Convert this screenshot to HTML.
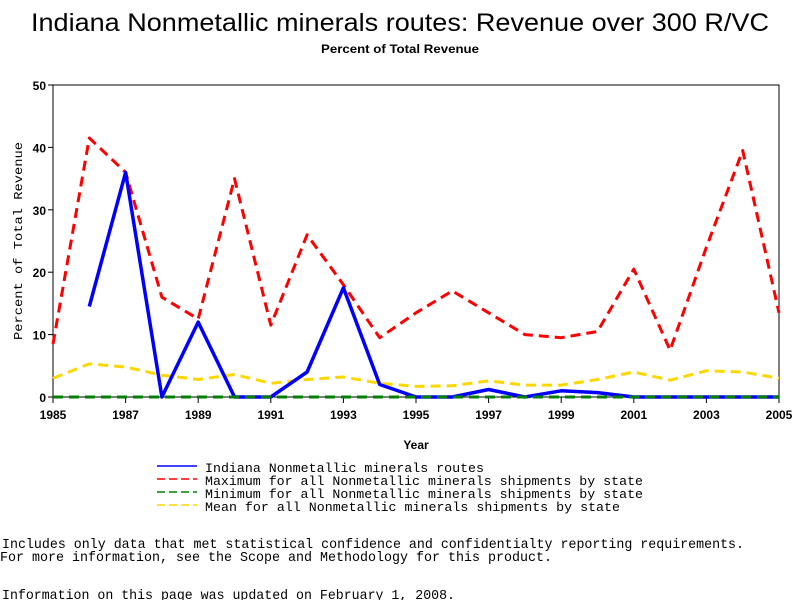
<!DOCTYPE html>
<html><head><meta charset="utf-8"><style>
html,body{margin:0;padding:0;background:#fff;}
svg{display:block;font-family:"Liberation Sans",sans-serif;}
</style></head><body>
<svg id="chart" width="800" height="600" viewBox="0 0 800 600">
<text x="400" y="31" text-anchor="middle" font-size="25" textLength="738" lengthAdjust="spacingAndGlyphs">Indiana Nonmetallic minerals routes: Revenue over 300 R/VC</text>
<text x="400" y="53" text-anchor="middle" font-size="12" font-weight="bold" textLength="158" lengthAdjust="spacingAndGlyphs">Percent of Total Revenue</text>
<rect x="53" y="85" width="726" height="312" fill="none" stroke="#000" stroke-width="1"/>
<g id="yaxis"></g>
<g id="xaxis"></g>
<text transform="translate(22,241) rotate(-90)" text-anchor="middle" font-family="Liberation Mono,monospace" font-size="12" textLength="198" lengthAdjust="spacingAndGlyphs">Percent of Total Revenue</text>
<text x="416" y="449" text-anchor="middle" font-size="12" font-weight="bold">Year</text>
<g id="series"></g>
<g font-family="Liberation Mono,monospace" font-size="13">
<line x1="157" y1="466" x2="197" y2="466" stroke="#0000ff" stroke-width="1.5"/>
<text x="205" y="472" textLength="279" lengthAdjust="spacingAndGlyphs">Indiana Nonmetallic minerals routes</text>
<line x1="157" y1="479" x2="197" y2="479" stroke="#ff0000" stroke-width="1.5" stroke-dasharray="8,4"/>
<text x="205" y="485" textLength="438" lengthAdjust="spacingAndGlyphs">Maximum for all Nonmetallic minerals shipments by state</text>
<line x1="157" y1="492" x2="197" y2="492" stroke="#008000" stroke-width="1.5" stroke-dasharray="8,4"/>
<text x="205" y="498" textLength="438" lengthAdjust="spacingAndGlyphs">Minimum for all Nonmetallic minerals shipments by state</text>
<line x1="157" y1="505" x2="197" y2="505" stroke="#ffd700" stroke-width="1.5" stroke-dasharray="8,4"/>
<text x="205" y="511" textLength="415" lengthAdjust="spacingAndGlyphs">Mean for all Nonmetallic minerals shipments by state</text>
</g>
<g font-family="Liberation Mono,monospace" font-size="14">
<text x="2" y="548" textLength="742" lengthAdjust="spacingAndGlyphs">Includes only data that met statistical confidence and confidentialty reporting requirements.</text>
<text x="0" y="561" textLength="552" lengthAdjust="spacingAndGlyphs">For more information, see the Scope and Methodology for this product.</text>
<text x="2" y="599" textLength="453" lengthAdjust="spacingAndGlyphs">Information on this page was updated on February 1, 2008.</text>
</g>
</svg>
<script>
const years = [1985,1986,1987,1988,1989,1990,1991,1992,1993,1994,1995,1996,1997,1998,1999,2000,2001,2002,2003,2004,2005];
const indianaValues = [null,14.5,36,0,12,0,0,4,17.5,2,0,0,1.2,0,1,0.7,0,0,0,0,0];
const maxValues = [8.5,41.5,36,16,12.5,35,11.5,26,18,9.5,13.5,17,13.5,10,9.5,10.5,20.5,7.5,24,39.5,13.5];
const minValues = [0,0,0,0,0,0,0,0,0,0,0,0,0,0,0,0,0,0,0,0,0];
const meanValues = [3,5.3,4.8,3.5,2.8,3.6,2.2,2.8,3.2,2.2,1.7,1.8,2.6,1.9,1.9,2.8,4,2.7,4.2,4,3];
const yTicks = [0,10,20,30,40,50];
const xTickLabels = [1985,1987,1989,1991,1993,1995,1997,1999,2001,2003,2005];

const NS = "http://www.w3.org/2000/svg";
const X0=53, X1=779, Y0=397, Y1=85;
const xs = y => X0 + (y-1985)/(2005-1985)*(X1-X0);
const ys = v => Y0 - v/50*(Y0-Y1);
function mk(tag, attrs, parent){const e=document.createElementNS(NS,tag);for(const k in attrs)e.setAttribute(k,attrs[k]);parent.appendChild(e);return e;}

const ya=document.getElementById('yaxis');
yTicks.forEach(t=>{
  const l=mk('line',{x1:X0-5,x2:X0,y1:ys(t),y2:ys(t),stroke:'#000'},ya);
  
  
  const tx=mk('text',{x:X0-7,y:ys(t)+5,'text-anchor':'end','font-size':'12','font-weight':'bold'},ya);
  tx.textContent=t;
  
  
});
const xa=document.getElementById('xaxis');
xTickLabels.forEach(t=>{
  const l=mk('line',{x1:xs(t),x2:xs(t),y1:Y0,y2:Y0+6,stroke:'#000'},xa);
  
  
  const tx=mk('text',{x:xs(t),y:Y0+22,'text-anchor':'middle','font-size':'12','font-weight':'bold'},xa);
  tx.textContent=t;
  
  
});

const sg=document.getElementById('series');
function line(vals,color,width,dash,name){
  const pts=[];vals.forEach((v,i)=>{if(v!==null)pts.push(xs(years[i]).toFixed(1)+','+ys(v).toFixed(1));});
  const a={points:pts.join(' '),fill:'none',stroke:color,'stroke-width':width,'stroke-linejoin':'round'};
  if(dash)a['stroke-dasharray']=dash;
  const p=mk('polyline',a,sg);
  
  
}
line(meanValues,'#ffd700',3,'10,6','mean-line');
line(maxValues,'#ff0000',3,'10,6','maximum-line');
line(indianaValues,'#0000ff',3.5,null,'indiana-line');
line(minValues,'#008000',3,'10,6','minimum-line');
</script>
</body></html>
